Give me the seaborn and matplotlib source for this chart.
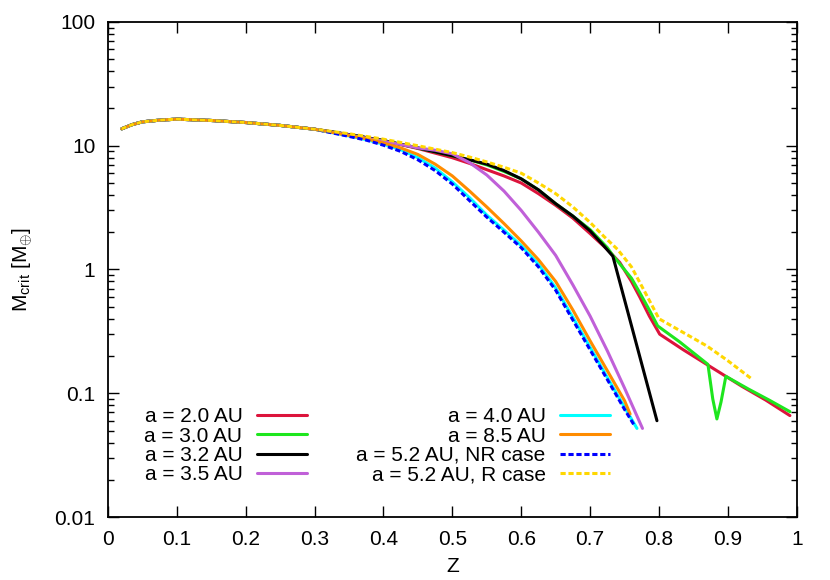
import numpy as np
import matplotlib
matplotlib.use("Agg")
import matplotlib.pyplot as plt
import matplotlib.ticker as mticker
import seaborn as sns

# shared early part of all curves (Z, M_crit)
z_base = [0.02, 0.035, 0.05, 0.075, 0.10, 0.15, 0.20, 0.25, 0.30]
m_base = [13.7, 14.8, 15.6, 16.1, 16.4, 16.0, 15.4, 14.6, 13.6]

z_a20 = [0.35, 0.40, 0.45, 0.50, 0.525, 0.55, 0.575, 0.60, 0.625, 0.65, 0.675, 0.70,
         0.725, 0.743, 0.76, 0.772, 0.786, 0.801, 0.835, 0.87, 0.92, 0.955, 0.99]
m_a20 = [12.3, 11.0, 9.5, 8.0, 7.2, 6.4, 5.7, 5.0, 4.1, 3.3, 2.6, 1.95,
         1.45, 1.14, 0.80, 0.60, 0.42, 0.30, 0.225, 0.17, 0.114, 0.088, 0.066]

z_a30 = [0.35, 0.40, 0.45, 0.50, 0.525, 0.55, 0.575, 0.60, 0.625, 0.65, 0.675, 0.70,
         0.725, 0.733, 0.76, 0.772, 0.786, 0.798, 0.83, 0.871, 0.878, 0.884, 0.89, 0.897,
         0.93, 0.96, 0.99]
m_a30 = [12.3, 11.0, 9.6, 8.3, 7.7, 7.0, 6.2, 5.4, 4.4, 3.4, 2.7, 2.1,
         1.5, 1.3, 0.85, 0.65, 0.47, 0.35, 0.26, 0.171, 0.09, 0.062, 0.085, 0.137,
         0.108, 0.088, 0.071]

z_a32 = [0.35, 0.40, 0.45, 0.50, 0.525, 0.55, 0.575, 0.60, 0.625, 0.65, 0.675, 0.70,
         0.72, 0.733, 0.797]
m_a32 = [12.3, 11.0, 9.6, 8.3, 7.7, 7.1, 6.3, 5.4, 4.4, 3.4, 2.7, 2.05,
         1.55, 1.28, 0.06]

z_a35 = [0.35, 0.40, 0.45, 0.475, 0.50, 0.525, 0.55, 0.575, 0.60, 0.625, 0.65, 0.675,
         0.70, 0.725, 0.75, 0.776]
m_a35 = [12.2, 10.9, 9.6, 9.2, 8.6, 7.3, 5.8, 4.3, 3.0, 2.0, 1.3, 0.75,
         0.42, 0.22, 0.11, 0.052]

z_a40 = [0.35, 0.375, 0.40, 0.425, 0.45, 0.475, 0.50, 0.525, 0.55, 0.575, 0.60, 0.625,
         0.65, 0.675, 0.70, 0.725, 0.75, 0.768]
m_a40 = [12.0, 11.2, 10.3, 9.3, 8.0, 6.6, 5.1, 3.8, 2.75, 2.08, 1.56, 1.1,
         0.71, 0.41, 0.235, 0.134, 0.077, 0.052]

z_a85 = [0.35, 0.375, 0.40, 0.425, 0.45, 0.475, 0.50, 0.525, 0.55, 0.575, 0.60, 0.625,
         0.65, 0.675, 0.70, 0.725, 0.75, 0.758]
m_a85 = [12.1, 11.4, 10.5, 9.6, 8.5, 7.1, 5.7, 4.3, 3.2, 2.35, 1.7, 1.2,
         0.80, 0.47, 0.265, 0.152, 0.087, 0.068]

z_nr = [0.35, 0.375, 0.40, 0.425, 0.45, 0.475, 0.50, 0.525, 0.55, 0.575, 0.60, 0.625,
        0.65, 0.675, 0.70, 0.725, 0.75, 0.765]
m_nr = [11.9, 11.1, 10.1, 9.0, 7.7, 6.3, 4.9, 3.6, 2.65, 2.0, 1.5, 1.05,
        0.68, 0.39, 0.224, 0.129, 0.074, 0.054]

z_r = [0.35, 0.40, 0.45, 0.50, 0.525, 0.55, 0.575, 0.60, 0.625, 0.65, 0.675, 0.70,
       0.72, 0.74, 0.76, 0.78, 0.80, 0.835, 0.87, 0.90, 0.935]
m_r = [12.5, 11.3, 10.0, 8.8, 8.1, 7.4, 6.7, 6.0, 5.0, 4.1, 3.2, 2.4,
       1.85, 1.45, 1.05, 0.65, 0.40, 0.31, 0.24, 0.183, 0.13]

series = [
    ("a = 2.0 AU", z_a20, m_a20, "#DC143C", "-"),
    ("a = 3.0 AU", z_a30, m_a30, "#1EE61E", "-"),
    ("a = 3.2 AU", z_a32, m_a32, "black", "-"),
    ("a = 3.5 AU", z_a35, m_a35, "#C060D8", "-"),
    ("a = 4.0 AU", z_a40, m_a40, "#00FFFF", "-"),
    ("a = 8.5 AU", z_a85, m_a85, "#FF8C00", "-"),
    ("a = 5.2 AU, NR case", z_nr, m_nr, "#0000FF", "--"),
    ("a = 5.2 AU, R case", z_r, m_r, "#FFD700", "--"),
]


def main():
    sns.set_style("ticks")
    plt.rcParams["font.family"] = ["Liberation Sans", "DejaVu Sans"]
    plt.rcParams["mathtext.fontset"] = "custom"
    plt.rcParams["mathtext.rm"] = "Liberation Sans"
    plt.rcParams["mathtext.it"] = "Liberation Sans:italic"
    for key in ["text.color", "axes.labelcolor", "xtick.color", "ytick.color"]:
        plt.rcParams[key] = "black"

    fig = plt.figure(figsize=(8.3, 5.8), dpi=100)
    ax = fig.add_axes([0.130, 0.1086, 0.830, 0.8535])

    handles = []
    for label, z, m, color, ls in series:
        zz = z_base + z
        mm = m_base + m
        sns.lineplot(x=zz, y=mm, ax=ax, color=color, linewidth=2.2,
                     sort=False, legend=False)
        line = ax.lines[-1]
        if ls == "--":
            line.set_linestyle("--")
            line.set_dashes((1.7, 0.9))
        line.set_label(label)
        handles.append(line)

    ax.set_yscale("log")
    ax.set_xlim(0, 1)
    ax.set_ylim(0.01, 100)
    ax.xaxis.set_major_locator(mticker.MultipleLocator(0.1))
    ax.xaxis.set_major_formatter(mticker.FuncFormatter(lambda v, p: f"{v:g}"))
    ax.yaxis.set_major_formatter(mticker.FuncFormatter(lambda v, p: f"{v:g}"))
    ax.yaxis.set_minor_locator(mticker.LogLocator(base=10, subs=np.arange(2, 10)))
    ax.yaxis.set_minor_formatter(mticker.NullFormatter())

    ax.tick_params(which="both", direction="in", top=True, right=True,
                   labelsize=15, width=1.0, colors="black", pad=9)
    ax.tick_params(which="major", length=8)
    ax.tick_params(which="minor", length=4)
    for sp in ax.spines.values():
        sp.set_linewidth(1.3)
        sp.set_color("black")

    ax.set_xlabel("Z", fontsize=15, labelpad=6)
    ax.set_ylabel(r"M$_{\mathrm{crit}}$ [M$_{\oplus}$]", fontsize=15, labelpad=14)

    leg_kw = dict(loc="upper right", frameon=False, markerfirst=False, fontsize=15,
                  handlelength=2.4, handletextpad=0.7, labelspacing=0.02,
                  borderpad=0, borderaxespad=0)
    leg1 = ax.legend(handles=handles[:4], bbox_to_anchor=(0.289, 0.222), **leg_kw)
    ax.add_artist(leg1)
    ax.legend(handles=handles[4:], bbox_to_anchor=(0.729, 0.222), **leg_kw)

    fig.savefig("out.png", dpi=100)
    plt.close(fig)


if __name__ == "__main__":
    main()
